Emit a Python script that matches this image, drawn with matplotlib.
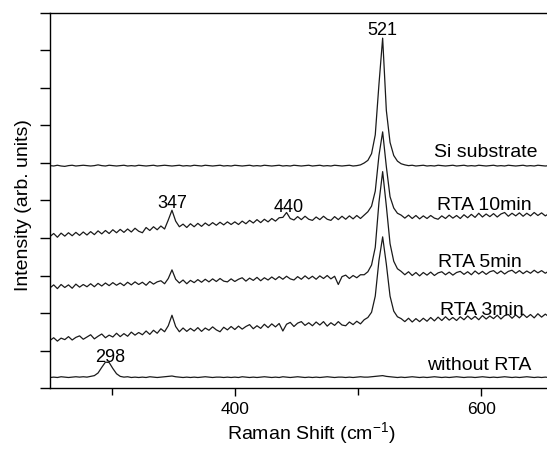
import numpy as np
import matplotlib
matplotlib.use("Agg")
import matplotlib.pyplot as plt
from matplotlib.ticker import MultipleLocator

plt.rcParams['font.family'] = ['Liberation Sans', 'DejaVu Sans']

# raman shift grid, 3 cm-1 step
shift = np.arange(250, 656, 3)

# intensities in arb. units (stacked, 0..10 on the y axis)
without_rta = [0.28, 0.29, 0.28, 0.30, 0.29, 0.28, 0.29, 0.30, 0.29, 0.30,
               0.29, 0.31, 0.33, 0.40, 0.55, 0.69, 0.68, 0.52, 0.38, 0.31,
               0.29, 0.30, 0.28, 0.29, 0.28, 0.29, 0.28, 0.30, 0.29, 0.28,
               0.29, 0.30, 0.31, 0.32, 0.30, 0.29, 0.28, 0.29, 0.28, 0.29,
               0.28, 0.29, 0.30, 0.29, 0.28, 0.29, 0.29, 0.28, 0.29, 0.28,
               0.29, 0.28, 0.30, 0.29, 0.28, 0.29, 0.28, 0.29, 0.30, 0.29,
               0.28, 0.29, 0.28, 0.30, 0.29, 0.28, 0.29, 0.30, 0.29, 0.28,
               0.29, 0.28, 0.29, 0.28, 0.29, 0.30, 0.29, 0.28, 0.29, 0.29,
               0.28, 0.29, 0.28, 0.29, 0.30, 0.29, 0.29, 0.30, 0.31, 0.32,
               0.33, 0.31, 0.30, 0.29, 0.28, 0.29, 0.28, 0.29, 0.30, 0.29,
               0.28, 0.29, 0.28, 0.29, 0.30, 0.29, 0.28, 0.29, 0.28, 0.29,
               0.30, 0.29, 0.28, 0.29, 0.29, 0.28, 0.29, 0.30, 0.29, 0.28,
               0.29, 0.28, 0.29, 0.30, 0.29, 0.28, 0.29, 0.28, 0.29, 0.30,
               0.29, 0.28, 0.29, 0.28, 0.29, 0.28]
rta_3min = [1.27, 1.34, 1.25, 1.33, 1.29, 1.37, 1.28, 1.35, 1.39, 1.30,
            1.36, 1.42, 1.31, 1.38, 1.44, 1.34, 1.41, 1.36, 1.46, 1.37,
            1.45, 1.38, 1.49, 1.41, 1.48, 1.42, 1.52, 1.43, 1.54, 1.46,
            1.58, 1.50, 1.66, 1.94, 1.64, 1.50, 1.60, 1.51, 1.59, 1.52,
            1.61, 1.51, 1.60, 1.54, 1.63, 1.55, 1.50, 1.62, 1.55, 1.64,
            1.56, 1.65, 1.57, 1.64, 1.69, 1.58, 1.66, 1.59, 1.70, 1.61,
            1.71, 1.63, 1.72, 1.52, 1.70, 1.75, 1.64, 1.73, 1.77, 1.67,
            1.74, 1.66, 1.76, 1.68, 1.77, 1.65, 1.74, 1.67, 1.77, 1.68,
            1.66, 1.76, 1.69, 1.78, 1.71, 1.82, 1.88, 2.02, 2.45, 3.40,
            4.03, 3.30, 2.45, 2.05, 1.90, 1.85, 1.77, 1.86, 1.76, 1.85,
            1.77, 1.86, 1.78, 1.88, 1.79, 1.89, 1.80, 1.90, 1.81, 1.88,
            1.80, 1.90, 1.82, 1.92, 1.83, 1.91, 1.82, 1.93, 1.84, 1.92,
            1.85, 1.94, 1.84, 1.93, 1.96, 1.86, 1.95, 1.87, 1.97, 1.88,
            1.96, 1.87, 1.98, 1.89, 1.97, 1.90]
rta_5min = [2.67, 2.75, 2.65, 2.76, 2.68, 2.75, 2.66, 2.77, 2.69, 2.76,
            2.70, 2.78, 2.70, 2.79, 2.72, 2.80, 2.73, 2.81, 2.74, 2.80,
            2.73, 2.82, 2.75, 2.83, 2.76, 2.82, 2.74, 2.84, 2.77, 2.83,
            2.86, 2.78, 2.92, 3.15, 2.90, 2.80, 2.88, 2.78, 2.87, 2.81,
            2.89, 2.82, 2.90, 2.83, 2.91, 2.84, 2.92, 2.85, 2.83, 2.91,
            2.84, 2.90, 2.94, 2.85, 2.93, 2.87, 2.95, 2.86, 2.94, 2.88,
            2.96, 2.89, 2.97, 2.90, 2.98, 2.91, 2.88, 2.97, 2.90, 2.99,
            2.91, 2.98, 2.90, 2.99, 2.92, 3.00, 2.91, 2.98, 2.76, 2.97,
            3.01, 2.92, 3.00, 2.94, 3.02, 3.02, 3.10, 3.28, 3.75, 4.95,
            5.77, 4.85, 3.85, 3.38, 3.18, 3.11, 3.02, 3.10, 3.00, 3.08,
            2.99, 3.08, 3.01, 3.09, 3.00, 3.07, 3.10, 3.02, 3.09, 3.01,
            3.08, 3.11, 3.03, 3.10, 3.02, 3.12, 3.04, 3.11, 3.03, 3.10,
            3.13, 3.05, 3.12, 3.04, 3.11, 3.14, 3.06, 3.13, 3.05, 3.12,
            3.06, 3.14, 3.07, 3.13, 3.06, 3.12]
rta_10min = [4.04, 4.12, 4.02, 4.13, 4.05, 4.14, 4.06, 4.15, 4.07, 4.16,
             4.08, 4.17, 4.09, 4.19, 4.11, 4.20, 4.12, 4.22, 4.14, 4.23,
             4.15, 4.24, 4.16, 4.26, 4.18, 4.14, 4.28, 4.20, 4.30, 4.22,
             4.32, 4.24, 4.48, 4.74, 4.45, 4.30, 4.37, 4.28, 4.38, 4.30,
             4.39, 4.31, 4.40, 4.33, 4.41, 4.34, 4.42, 4.35, 4.43, 4.36,
             4.43, 4.36, 4.45, 4.38, 4.47, 4.40, 4.49, 4.41, 4.50, 4.43,
             4.52, 4.45, 4.54, 4.55, 4.68, 4.52, 4.48, 4.57, 4.49, 4.58,
             4.50, 4.47, 4.56, 4.49, 4.58, 4.50, 4.47, 4.57, 4.49, 4.58,
             4.50, 4.59, 4.51, 4.60, 4.52, 4.61, 4.70, 4.85, 5.25, 6.20,
             6.83, 5.90, 5.10, 4.80, 4.66, 4.61, 4.53, 4.61, 4.52, 4.60,
             4.51, 4.59, 4.52, 4.60, 4.53, 4.50, 4.59, 4.52, 4.61, 4.53,
             4.60, 4.52, 4.62, 4.54, 4.63, 4.55, 4.66, 4.56, 4.64, 4.57,
             4.65, 4.56, 4.64, 4.68, 4.58, 4.66, 4.59, 4.67, 4.58, 4.66,
             4.59, 4.68, 4.60, 4.67, 4.59, 4.65]
si_sub = [5.93, 5.92, 5.94, 5.92, 5.91, 5.93, 5.94, 5.92, 5.93, 5.94,
          5.93, 5.92, 5.93, 5.95, 5.93, 5.92, 5.94, 5.93, 5.92, 5.93,
          5.94, 5.92, 5.93, 5.92, 5.94, 5.93, 5.92, 5.93, 5.94, 5.92,
          5.93, 5.94, 5.93, 5.92, 5.93, 5.94, 5.92, 5.93, 5.92, 5.94,
          5.93, 5.92, 5.94, 5.93, 5.92, 5.93, 5.94, 5.92, 5.93, 5.92,
          5.94, 5.93, 5.92, 5.93, 5.94, 5.92, 5.93, 5.92, 5.94, 5.93,
          5.92, 5.93, 5.94, 5.92, 5.93, 5.92, 5.94, 5.93, 5.92, 5.93,
          5.94, 5.92, 5.93, 5.94, 5.92, 5.93, 5.92, 5.94, 5.93, 5.92,
          5.93, 5.94, 5.92, 5.93, 5.95, 6.00, 6.07, 6.25, 6.75, 8.10,
          9.33, 7.40, 6.55, 6.20, 6.05, 5.98, 5.95, 5.93, 5.94, 5.92,
          5.93, 5.94, 5.92, 5.93, 5.92, 5.94, 5.93, 5.92, 5.93, 5.94,
          5.92, 5.93, 5.94, 5.92, 5.93, 5.92, 5.94, 5.93, 5.92, 5.93,
          5.94, 5.92, 5.93, 5.92, 5.94, 5.93, 5.92, 5.93, 5.94, 5.92,
          5.93, 5.92, 5.94, 5.93, 5.92, 5.93]

curves = [without_rta, rta_3min, rta_5min, rta_10min, si_sub]
names = ['without RTA', 'RTA 3min', 'RTA 5min', 'RTA 10min', 'Si substrate']
name_x = [556, 566.5, 565, 564, 561.5]      # left edge of each label
name_y = [0.48, 1.95, 3.23, 4.75, 6.16]     # baseline of each label
peak_lbl = ['298', '347', '440', '521']
peak_x = [298.5, 349, 444, 519.5]
peak_y = [0.69, 4.8, 4.7, 9.41]

fig = plt.figure(figsize=(5.47, 4.49), dpi=100)
ax = fig.add_axes([50/547, 61/449, 523/547, 375/449])   # right edge runs off the picture

for c in curves:
    ax.plot(shift, c, color='#1a1a1a', lw=0.9)

for n, px, py in zip(names, name_x, name_y):
    ax.text(px, py, n, fontsize=14, ha='left', va='baseline')
for n, px, py in zip(peak_lbl, peak_x, peak_y):
    ax.text(px, py, n, fontsize=13, ha='center', va='baseline')

ax.set_xlim(250, 674.5)
ax.set_ylim(0, 10)
ax.xaxis.set_major_locator(MultipleLocator(200))
ax.xaxis.set_minor_locator(MultipleLocator(100))
ax.yaxis.set_major_locator(MultipleLocator(1))
ax.set_yticklabels([])
ax.tick_params(axis='x', which='major', direction='out', length=6, width=1, labelsize=12.5, pad=4)
ax.tick_params(axis='x', which='minor', direction='out', length=5, width=1)
ax.tick_params(axis='y', direction='out', length=7, width=1)
ax.spines['right'].set_visible(False)
for s in ['left', 'bottom', 'top']:
    ax.spines[s].set_linewidth(1.0)

ax.set_xlabel('Raman Shift (cm$^{\\mathregular{-1}}$)', fontsize=14)
ax.xaxis.set_label_coords(0.5, -0.087)
ax.set_ylabel('Intensity (arb. units)', fontsize=14)
ax.yaxis.set_label_coords(-0.034, 0.489)

plt.savefig('out.png', dpi=100)
